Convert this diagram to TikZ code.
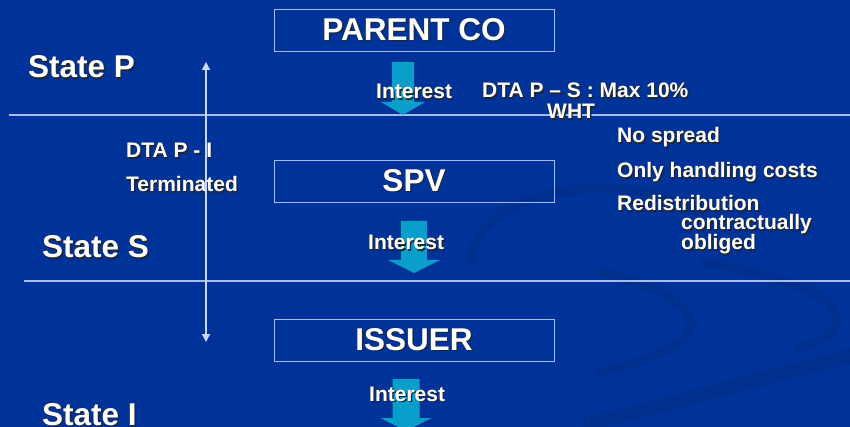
\documentclass[tikz,border=0pt]{standalone}
\usepackage{fontspec}
\setmainfont{Liberation Sans}
\usetikzlibrary{arrows.meta,positioning}

\definecolor{slidebg}{HTML}{003399}
\definecolor{swoosh}{HTML}{002F8E}
\definecolor{rulecol}{HTML}{A8BCEC}
\definecolor{flowcyan}{HTML}{0A9FCB}

% text with the slide's drop shadow
\newcommand{\shd}[1]{\rlap{\color{black!85}\kern1.4pt\raisebox{-1.4pt}{#1}}#1}
% big cyan flow arrow: centre x, top, neck, tip, half shaft, half head
\newcommand{\flowarrow}[6]{%
  \fill[flow] (#1-#5,#2) -- (#1+#5,#2) -- (#1+#5,#3) -- (#1+#6,#3)
    -- (#1,#4) -- (#1-#6,#3) -- (#1-#5,#3) -- cycle;}

\tikzset{
  entity/.style={draw=rulecol, line width=0.8pt, minimum width=280pt,
    minimum height=42pt, inner sep=0pt, text=white,
    font=\fontsize{31.5}{36}\selectfont\bfseries},
  statelbl/.style={anchor=base west, inner sep=0pt, text=white,
    font=\fontsize{31.5}{36}\selectfont\bfseries},
  note/.style={anchor=base west, inner sep=0pt, text=white,
    font=\fontsize{21}{24}\selectfont\bfseries},
  flow/.style={fill=flowcyan},
  sep/.style={draw=rulecol, line width=1.2pt},
}

\begin{document}
\begin{tikzpicture}[x=1pt,y=-1pt]
  % Background of the slide
  \fill[slidebg] (0,0) rectangle (850,427);
  \useasboundingbox (0,0) rectangle (850,427);
  \begin{scope}[swoosh, line width=9pt, line cap=round]
    \draw (470,262) .. controls (480,180) and (640,170) .. (700,215);
    \draw (600,272) .. controls (700,295) and (740,340) .. (600,372);
    \draw (705,262) .. controls (860,290) and (860,330) .. (800,348);
    \draw[line width=14pt] (590,424) -- (850,356);
  \end{scope}
  % State borders
  \draw[sep] (9,115) -- (850,115);
  \draw[sep] (24,281) -- (850,281);
  % Entities
  \node[entity] (parent) at (414,30) {\shd{PARENT CO}};
  \node[entity] (spv) at (414,181) {\shd{SPV}};
  \node[entity] (issuer) at (414,340) {\shd{ISSUER}};
  % Interest flows
  \flowarrow{403}{62}{102}{115}{11}{22}
  \flowarrow{414}{221}{260}{273}{13}{26}
  \flowarrow{406}{379}{418}{431}{13.5}{25.5}
  % States
  \node[statelbl] (stp) at (28,78) {\shd{State P}};
  \node[statelbl] (sts) at (42,258) {\shd{State S}};
  \node[statelbl] (sti) at (42,425) {\shd{State I}};
  % Labels
  \node[note] (int1) at (376,99) {\shd{Interest}};
  \node[note] (int2) at (368,250) {\shd{Interest}};
  \node[note] (int3) at (369,401) {\shd{Interest}};
  \node[note] (dtaps) at (482,98) {\shd{DTA P -- S : Max 10\%}};
  \node[note] (wht) at (547,119) {\shd{WHT}};
  \node[note] (dtapi) at (126,158) {\shd{DTA P - I}};
  \node[note] (term) at (126,192) {\shd{Terminated}};
  \node[note] (nosp) at (617,143) {\shd{No spread}};
  \node[note] (hand) at (617,178) {\shd{Only handling costs}};
  \node[note] (redis) at (617,211) {\shd{Redistribution}};
  \node[note] (contr) at (681,230) {\shd{contractually}};
  \node[note] (oblig) at (681,250) {\shd{obliged}};
  % Treaty span P - I
  \coordinate (treatytop) at (206,62);
  \coordinate (treatybot) at (206,342);
  \draw[rulecol!60!white, line width=1.2pt,
    {Triangle[length=8pt,width=8pt]}-{Triangle[length=8pt,width=8pt]}]
    (treatytop) -- (treatybot);
\end{tikzpicture}
\end{document}
